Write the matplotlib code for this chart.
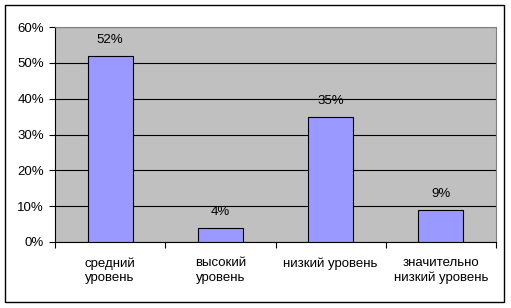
import matplotlib
matplotlib.use("Agg")
import matplotlib.pyplot as plt
from matplotlib.patches import Rectangle
import numpy as np

categories = ["средний\nуровень", "высокий\nуровень", "низкий уровень", "значительно\nнизкий уровень"]
values = [52, 4, 35, 9]
labels = ["52%", "4%", "35%", "9%"]
yticks = [0, 10, 20, 30, 40, 50, 60]

plt.rcParams['font.family'] = ['Liberation Sans', 'DejaVu Sans']
plt.rcParams['font.size'] = 9.5

fig = plt.figure(figsize=(5.11, 3.08), dpi=100)
fig.patch.set_facecolor("white")
# outer chart border
fig.patches.append(Rectangle((5/511, 1 - 302/308), 499/511, 297/308,
                             transform=fig.transFigure, fill=False,
                             edgecolor="black", linewidth=1))

ax = fig.add_axes([55/511, 1 - 242/308, 441/511, 215/308])
ax.set_facecolor("#C0C0C0")

x = np.arange(len(values))
ax.bar(x, values, width=0.41, color="#9999FF", edgecolor="black", linewidth=0.8, zorder=3)
for xi, v, lab in zip(x, values, labels):
    ax.annotate(lab, (xi, v), xytext=(0, 7), textcoords="offset points",
                ha="center", va="bottom")

ax.set_xlim(-0.5, len(values) - 0.5)
ax.set_ylim(0, 60)
ax.set_yticks(yticks)
ax.set_yticklabels([f"{t}%" for t in yticks])
ax.yaxis.grid(True, color="black", linewidth=0.8, zorder=0)
ax.set_axisbelow(True)

ax.set_xticks(np.arange(len(values) + 1) - 0.5)
ax.set_xticklabels([])
ax.set_xticks(x, minor=True)
ax.set_xticklabels(categories, minor=True, linespacing=1.25)
ax.tick_params(axis="x", which="minor", length=0, pad=11)
ax.tick_params(axis="x", which="major", length=4, direction="out", color="black")
ax.tick_params(axis="y", length=4, direction="out", color="black", pad=4)

for s in ["top", "right"]:
    ax.spines[s].set_color("#808080")
for s in ["left", "bottom"]:
    ax.spines[s].set_color("black")

fig.savefig("out.png", dpi=100)
